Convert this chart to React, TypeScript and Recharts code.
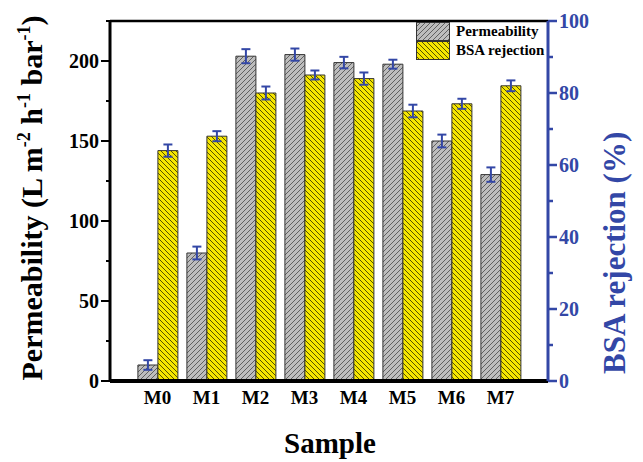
import React from 'react';
import { BarChart, Bar, XAxis, YAxis, ErrorBar, Legend, ReferenceLine, Label } from 'recharts';

const SAMPLES = ['M0', 'M1', 'M2', 'M3', 'M4', 'M5', 'M6', 'M7'];
const PERMEABILITY = [10, 80, 203, 204, 199, 198, 150, 129];
const PERMEABILITY_ERR = [3, 4, 4.4, 3.8, 3.6, 2.8, 4, 4.5];
const REJECTION = [64, 68, 80, 85, 84, 75, 77, 82];
const REJECTION_ERR = [1.7, 1.4, 1.8, 1.25, 1.7, 1.75, 1.4, 1.5];
const LEFT_TICKS = [0, 25, 50, 75, 100, 125, 150, 175, 200, 225];
const RIGHT_TICKS = [0, 10, 20, 30, 40, 50, 60, 70, 80, 90, 100];

const BLUE = '#3347a6';
const FONT = '"Liberation Serif", "Times New Roman", serif';

const data = SAMPLES.map((name, i) => ({
    name,
    permeability: PERMEABILITY[i],
    permErr: PERMEABILITY_ERR[i],
    rejection: REJECTION[i],
    rejErr: REJECTION_ERR[i],
}));

const Patterns = () => (
    <defs>
        <pattern id="hatchGray" width="5" height="5" patternUnits="userSpaceOnUse">
            <rect width="5" height="5" fill="#bdbdbd" />
            <path d="M-1,1 l2,-2 M0,5 l5,-5 M4,6 l2,-2" stroke="#474747" strokeWidth="0.8" />
        </pattern>
        <pattern id="hatchYellow" width="5" height="5" patternUnits="userSpaceOnUse">
            <rect width="5" height="5" fill="#f6e600" />
            <path d="M-1,4 l2,2 M0,0 l5,5 M4,-1 l2,2" stroke="#2b2b00" strokeWidth="0.8" />
        </pattern>
    </defs>
);

// left ticks: labels every 50, short minor marks in between
const LeftTick = ({ x, y, payload }: any) => {
    const major = payload.value % 50 === 0;
    return (
        <g>
            <line x1={x} x2={x - (major ? 9 : 4)} y1={y} y2={y} stroke="#000" strokeWidth={2} />
            {major && (
                <text x={x - 11} y={y} dy="0.35em" textAnchor="end" fontFamily={FONT} fontWeight="bold" fontSize={20} fill="#000">
                    {payload.value}
                </text>
            )}
        </g>
    );
};

const RightTick = ({ x, y, payload }: any) => {
    const major = payload.value % 20 === 0;
    return (
        <g>
            <line x1={x} x2={x + (major ? 9 : 5)} y1={y} y2={y} stroke={BLUE} strokeWidth={2.5} />
            {major && (
                <text x={x + 11} y={y} dy="0.35em" textAnchor="start" fontFamily={FONT} fontWeight="bold" fontSize={20} fill={BLUE}>
                    {payload.value}
                </text>
            )}
        </g>
    );
};

const LeftTitle = () => (
    <text transform="translate(42,198) rotate(-90)" textAnchor="middle" fontFamily={FONT} fontWeight="bold" fontSize={30} fill="#000">
        <tspan>Permeability (L m</tspan>
        <tspan dy={-12} fontSize={18}>-2</tspan>
        <tspan dy={12}> h</tspan>
        <tspan dy={-12} fontSize={18}>-1</tspan>
        <tspan dy={12}> bar</tspan>
        <tspan dy={-12} fontSize={18}>-1</tspan>
        <tspan dy={12}>)</tspan>
    </text>
);

const RightTitle = () => (
    <text transform="translate(625,374) rotate(-90)" textAnchor="start" fontFamily={FONT} fontWeight="bold" fontSize={31} fill={BLUE}>
        BSA rejection (%)
    </text>
);

const LegendBox = () => {
    const rows = [
        { label: 'Permeability', fill: 'url(#hatchGray)' },
        { label: 'BSA rejection', fill: 'url(#hatchYellow)' },
    ];
    return (
        <div>
            {rows.map((r) => (
                <div key={r.label} style={{ display: 'flex', alignItems: 'center', height: 19 }}>
                    <svg width={34} height={19}>
                        <rect x={0.5} y={0.5} width={33} height={18} fill={r.fill} stroke="#333" />
                    </svg>
                    <span style={{ marginLeft: 6, fontFamily: FONT, fontWeight: 'bold', fontSize: 15, color: '#000' }}>{r.label}</span>
                </div>
            ))}
        </div>
    );
};

const App: React.FC = () => {
    return (
        <div style={{ position: 'absolute', left: 0, top: 0, width: 643, height: 462, background: '#fff' }}>
            <BarChart
                width={643}
                height={462}
                data={data}
                margin={{ top: 21, right: 35, left: 50, bottom: 51 }}
                barCategoryGap="10%"
                barGap={0}
            >
                <Patterns />
                <XAxis
                    dataKey="name"
                    xAxisId={0}
                    height={30}
                    padding={{ left: 23, right: 23 }}
                    tickLine={false}
                    tickSize={0}
                    tickMargin={10}
                    axisLine={{ stroke: '#000', strokeWidth: 4 }}
                    tick={{ fontFamily: FONT, fontWeight: 'bold', fontSize: 19, fill: '#000' }}
                >
                    <Label content={() => (
                        <text x={330} y={453} textAnchor="middle" fontFamily={FONT} fontWeight="bold" fontSize={29} fill="#000">Sample</text>
                    )} />
                </XAxis>
                <YAxis
                    yAxisId="left"
                    width={60}
                    domain={[0, 225]}
                    ticks={LEFT_TICKS}
                    interval={0}
                    tickLine={false}
                    tickSize={0}
                    tickMargin={0}
                    axisLine={{ stroke: '#000', strokeWidth: 3 }}
                    tick={<LeftTick />}
                >
                    <Label content={() => <LeftTitle />} />
                </YAxis>
                <YAxis
                    yAxisId="right"
                    orientation="right"
                    width={60}
                    domain={[0, 100]}
                    ticks={RIGHT_TICKS}
                    interval={0}
                    tickLine={false}
                    tickSize={0}
                    tickMargin={0}
                    axisLine={{ stroke: BLUE, strokeWidth: 3 }}
                    tick={<RightTick />}
                >
                    <Label content={() => <RightTitle />} />
                </YAxis>
                <ReferenceLine yAxisId="left" y={225} stroke="#000" strokeWidth={2.5} ifOverflow="visible" />
                <Legend
                    layout="vertical"
                    align="center"
                    verticalAlign="middle"
                    content={() => <LegendBox />}
                    wrapperStyle={{ left: 416, top: 22, width: 'auto' }}
                />
                <Bar yAxisId="left" dataKey="permeability" name="Permeability" fill="url(#hatchGray)" stroke="#333" strokeWidth={1} isAnimationActive={false}>
                    <ErrorBar dataKey="permErr" width={4.5} stroke={BLUE} strokeWidth={2} direction="y" />
                </Bar>
                <Bar yAxisId="right" dataKey="rejection" name="BSA rejection" fill="url(#hatchYellow)" stroke="#333" strokeWidth={1} isAnimationActive={false}>
                    <ErrorBar dataKey="rejErr" width={4.5} stroke={BLUE} strokeWidth={2} direction="y" />
                </Bar>
            </BarChart>
        </div>
    );
};

export default App;
